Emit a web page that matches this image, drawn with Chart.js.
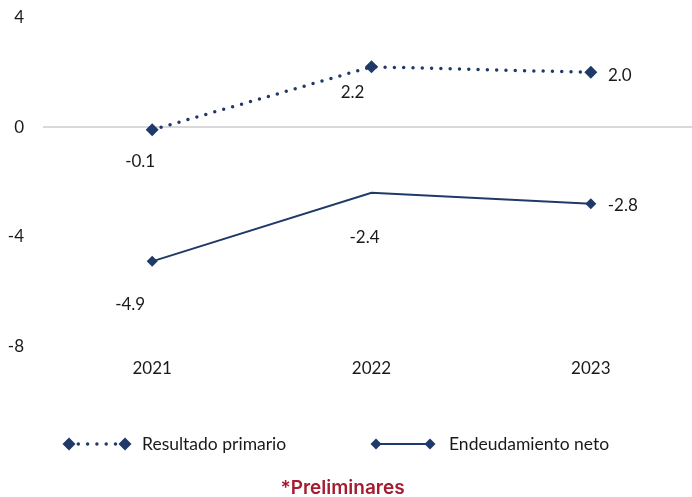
<!DOCTYPE html>
<html>
<head>
<meta charset="utf-8">
<script src="https://cdn.jsdelivr.net/npm/chart.js@4"></script>
<style>
  html, body { margin: 0; padding: 0; background: #fff; overflow: hidden; }
  #wrap { width: 692px; height: 497px; overflow: hidden; position: relative; }
  canvas { display: block; }
</style>
</head>
<body>
<div id="wrap"><canvas id="c" width="707" height="497"></canvas></div>
<script>
// Values
const categories = ['2021', '2022', '2023'];
const resultadoPrimario = [-0.1, 2.2, 2.0];
const endeudamientoNeto = [-4.9, -2.4, -2.8];
const yTicks = [4, 0, -4, -8];
const seriesNames = ['Resultado primario', 'Endeudamiento neto'];
const footnote = '*Preliminares';

// Styling
const NAVY = '#1f3a68';
const TEXT = '#1a1a1a';
const FONT = 'Lato, "Noto Sans", sans-serif';
// value label offsets (dx, dy) from each point, per series
const labelOffsets = [
  [[-12, 32], [-19, 26], [29, 3]],
  [[-22, 43], [-7, 45], [32, 2]]
];

const fmt = v => v.toFixed(1);

const valueLabels = {
  id: 'valueLabels',
  afterDatasetsDraw(chart) {
    const ctx = chart.ctx;
    ctx.save();
    ctx.font = '17px ' + FONT;
    ctx.fillStyle = TEXT;
    ctx.textAlign = 'center';
    ctx.textBaseline = 'middle';
    chart.data.datasets.forEach((ds, di) => {
      const meta = chart.getDatasetMeta(di);
      meta.data.forEach((pt, i) => {
        const [dx, dy] = labelOffsets[di][i];
        ctx.fillText(fmt(ds.data[i]), pt.x + dx, pt.y + dy);
      });
    });
    ctx.restore();
  }
};

function diamond(ctx, x, y, r) {
  ctx.beginPath();
  ctx.moveTo(x, y - r);
  ctx.lineTo(x + r, y);
  ctx.lineTo(x, y + r);
  ctx.lineTo(x - r, y);
  ctx.closePath();
  ctx.fill();
}

const bottomLegend = {
  id: 'bottomLegend',
  afterDraw(chart) {
    const ctx = chart.ctx;
    const y = 444;
    const items = [
      { x0: 69, x1: 125, tx: 142, dash: [0, 9.3], w: 3.5, r: 6.5 },
      { x0: 376, x1: 430, tx: 449, dash: [], w: 2, r: 5.5 }
    ];
    ctx.save();
    items.forEach((it, i) => {
      ctx.strokeStyle = NAVY;
      ctx.fillStyle = NAVY;
      ctx.lineWidth = it.w;
      ctx.lineCap = 'round';
      ctx.setLineDash(it.dash);
      ctx.beginPath();
      ctx.moveTo(it.x0, y);
      ctx.lineTo(it.x1, y);
      ctx.stroke();
      ctx.setLineDash([]);
      diamond(ctx, it.x0, y, it.r);
      diamond(ctx, it.x1, y, it.r);
      ctx.fillStyle = TEXT;
      ctx.font = '17.5px ' + FONT;
      ctx.textAlign = 'left';
      ctx.textBaseline = 'middle';
      ctx.fillText(seriesNames[i], it.tx, y);
    });
    ctx.font = '600 19px Inter, "Noto Sans", sans-serif';
    ctx.fillStyle = '#a51c30';
    ctx.textAlign = 'center';
    ctx.textBaseline = 'middle';
    ctx.fillText(footnote, 342.5, 488);
    ctx.restore();
  }
};

new Chart(document.getElementById('c'), {
  type: 'line',
  data: {
    labels: categories,
    datasets: [
      {
        label: seriesNames[0],
        data: resultadoPrimario,
        borderColor: NAVY,
        backgroundColor: NAVY,
        borderWidth: 3.5,
        borderDash: [0, 9.3],
        borderCapStyle: 'round',
        pointStyle: 'rectRot',
        pointRadius: 6.5,
        pointBorderWidth: 0,
        pointBackgroundColor: NAVY,
        tension: 0
      },
      {
        label: seriesNames[1],
        data: endeudamientoNeto,
        borderColor: NAVY,
        backgroundColor: NAVY,
        borderWidth: 2,
        pointStyle: 'rectRot',
        pointRadius: [5.5, 0, 5.5],
        pointBorderWidth: 0,
        pointBackgroundColor: NAVY,
        tension: 0
      }
    ]
  },
  options: {
    responsive: false,
    maintainAspectRatio: false,
    animation: false,
    devicePixelRatio: 1,
    layout: { padding: { top: 17.5, right: 0, bottom: 0, left: 0 } },
    plugins: {
      legend: { display: false },
      tooltip: { enabled: false }
    },
    scales: {
      x: {
        type: 'category',
        offset: true,
        grid: { display: false, drawTicks: false },
        border: { display: false },
        ticks: { color: TEXT, font: { family: FONT, size: 17 }, padding: 12, maxRotation: 0 },
        afterFit(scale) {
          scale.height = 150.7;
          scale.paddingLeft = 0;
          scale.paddingRight = 0;
        }
      },
      y: {
        min: -8,
        max: 4,
        afterBuildTicks(scale) { scale.ticks = yTicks.map(v => ({ value: v })); },
        grid: {
          drawTicks: false,
          lineWidth: 2,
          color: c => (c.tick && c.tick.value === 0) ? '#d9d9d9' : 'rgba(0,0,0,0)'
        },
        border: { display: false },
        ticks: { color: TEXT, font: { family: FONT, size: 17 }, padding: 18.5 },
        afterFit(scale) {
          scale.width = 42.5;
          scale.paddingTop = 0;
          scale.paddingBottom = 0;
        }
      }
    }
  },
  plugins: [valueLabels, bottomLegend]
});
</script>
</body>
</html>
